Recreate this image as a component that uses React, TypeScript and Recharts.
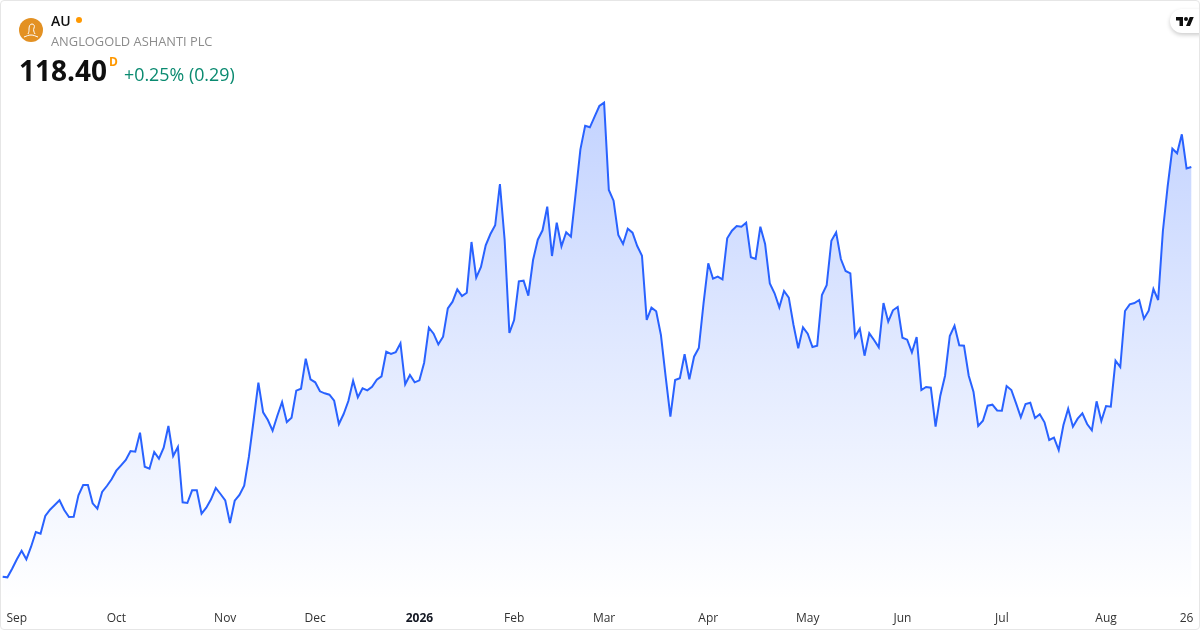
import { Area, AreaChart, XAxis, YAxis } from "recharts";

const closes = [
  36.46, 36.34, 38.06, 39.94, 41.66, 39.94, 42.46, 45.4, 45.06, 48.6,
  49.86, 50.8, 51.74, 49.8, 48.4, 48.46, 52.74, 54.8, 54.8, 51.14,
  50.06, 53.4, 54.6, 55.94, 57.66, 58.74, 59.8, 61.6, 61.46, 65.26,
  58.46, 58.06, 61.4, 60.06, 62.26, 66.6, 60.6, 62.4, 51.34, 51.2,
  53.74, 53.74, 49.06, 50.26, 51.94, 54.2, 53, 51.74, 47.2, 51.66,
  52.8, 54.66, 60.46, 67.8, 75.26, 69.34, 67.8, 65.66, 68.66, 71.4,
  67.4, 68.26, 73.66, 74.06, 80.06, 75.94, 75.34, 73.54, 73.14, 72.86,
  71.66, 67, 69, 71.6, 75.66, 72.34, 74.14, 73.74, 74.46, 75.86,
  76.54, 81.46, 81, 81.34, 83.14, 74.94, 76.8, 75.34, 75.74, 79.26,
  86.26, 85.06, 82.94, 84.46, 90.14, 91.46, 93.94, 92.6, 93.26, 103.4,
  96.26, 98.4, 102.74, 105, 106.74, 115, 103.8, 85.2, 87.8, 95.54,
  95.66, 92.66, 99.8, 103.86, 105.74, 110.46, 100.6, 107.26, 102.54, 105.34,
  104.46, 113.14, 121.94, 126.66, 126.34, 128.46, 130.6, 131.26, 113.8, 111.66,
  104.8, 103, 106.06, 105.26, 102.6, 100.66, 87.8, 90.26, 89.54, 84.8,
  76.46, 68.46, 75.8, 76.14, 80.94, 75.94, 80.46, 82.2, 91.14, 99.14,
  96.06, 96.46, 95.94, 104.14, 105.66, 106.6, 106.46, 107.26, 100.34, 100,
  106.46, 103, 95.1, 93.14, 90.34, 93.6, 92.26, 86.8, 82.14, 86.34,
  85.06, 82.4, 82.66, 92.8, 94.74, 103.66, 105.34, 100, 97.6, 97.14,
  84.46, 86.06, 80.66, 85.14, 83.8, 82.34, 91.2, 87.46, 89.74, 90.4,
  84.26, 83.86, 81.34, 84.4, 73.8, 74.4, 74.26, 66.46, 72.66, 76.66,
  84.6, 86.66, 82.74, 82.66, 76.66, 73.46, 66.6, 67.66, 70.66, 70.86,
  69.7, 69.66, 74.6, 73.8, 71.14, 68.34, 71, 71.26, 68.2, 68.94,
  67.34, 63.8, 64.26, 61.8, 66.8, 70.06, 66.46, 68.06, 69.14, 67,
  65.74, 71.54, 67.6, 70.6, 70.46, 79.66, 78.4, 89.6, 90.94, 91.2,
  91.8, 88.06, 89.66, 94, 91.8, 105.6, 114.46, 122.06, 121.14, 124.94,
  118.11, 118.4,
];

const tickLabels = ["Sep", "Oct", "Nov", "Dec", "2026", "Feb", "Mar", "Apr", "May", "Jun", "Jul", "Aug", "26"];
const tickSessions = [3, 24, 47, 66, 88, 108, 127, 149, 170, 190, 211, 233, 250];

const chartData = closes.map((close, session) => ({ session, close }));

const MonthTick = ({ x, y, payload }: any) => {
  const label = tickLabels[tickSessions.indexOf(payload.value)];
  return (
    <text
      x={x}
      y={y}
      textAnchor="middle"
      fontSize={12}
      fontFamily="'Open Sans', sans-serif"
      fontWeight={label === "2026" ? 700 : 400}
      fill={label === "2026" ? "#131722" : "#333333"}
    >
      {label}
    </text>
  );
};

const App = () => {
  return (
    <div
      style={{
        position: "fixed",
        left: 0,
        top: 0,
        width: 1200,
        height: 630,
        boxSizing: "border-box",
        border: "1px solid #e6e6e6",
        borderRadius: 4,
        background: "#fff",
        overflow: "hidden",
        fontFamily: "'Open Sans', sans-serif",
      }}
    >
      <div style={{ position: "absolute", left: -1, top: -1 }}>
        <AreaChart width={1200} height={630} data={chartData} margin={{ top: 0, right: 8.7, left: 2.67, bottom: 0 }}>
          <defs>
            <linearGradient id="closeGrad" x1="0" y1="0" x2="0" y2="1">
              <stop offset="0%" stopColor="#2962ff" stopOpacity={0.28} />
              <stop offset="100%" stopColor="#2962ff" stopOpacity={0} />
            </linearGradient>
          </defs>
          <XAxis
            dataKey="session"
            type="number"
            domain={[0, 251]}
            ticks={tickSessions}
            interval={0}
            axisLine={false}
            tickLine={false}
            height={30}
            tick={<MonthTick />}
            tickMargin={16}
          />
          <YAxis hide domain={[31.8, 151.8]} />
          <Area
            type="linear"
            dataKey="close"
            stroke="#2962ff"
            strokeWidth={2}
            fill="url(#closeGrad)"
            fillOpacity={1}
            isAnimationActive={false}
          />
        </AreaChart>
      </div>

      <div style={{ position: "absolute", left: 18, top: 17, width: 24, height: 24, borderRadius: "50%", background: "#e39123" }}>
        <svg width="24" height="24" viewBox="0 0 24 24">
          <path d="M9 16c1-2 1-3 1-5 0-3 1-5 3-5s3 2 2 4c-1 2 0 4 1 6" fill="none" stroke="#fff" strokeWidth="1" />
          <path d="M5 19c3-1 4-2 7-2s4 1 7 2" fill="none" stroke="#fff" strokeWidth="1" />
        </svg>
      </div>
      <div style={{ position: "absolute", left: 50, top: 10, fontSize: 14, fontWeight: 600, color: "#0f0f0f", lineHeight: "19px" }}>AU</div>
      <div style={{ position: "absolute", left: 75, top: 16, width: 6, height: 6, borderRadius: "50%", background: "#ff9800" }} />
      <div style={{ position: "absolute", left: 50, top: 31, fontSize: 12.85, color: "#8c8c8c", lineHeight: "18px" }}>ANGLOGOLD ASHANTI PLC</div>
      <div style={{ position: "absolute", left: 18, top: 50, fontSize: 28, fontWeight: 700, color: "#0f0f0f", lineHeight: "38px" }}>118.40</div>
      <div style={{ position: "absolute", left: 108, top: 53, fontSize: 12, fontWeight: 700, color: "#ff9800", lineHeight: "15px" }}>D</div>
      <div style={{ position: "absolute", left: 123, top: 61, fontSize: 17.85, color: "#0a8a70", lineHeight: "25px" }}>+0.25% (0.29)</div>

      <div
        style={{
          position: "absolute",
          right: -12,
          top: 8,
          width: 41,
          height: 24,
          borderRadius: 12,
          background: "#fff",
          boxShadow: "0 2px 4px rgba(0,0,0,0.2)",
        }}
      >
        <svg style={{ position: "absolute", left: 6, top: 7 }} width="18" height="10" viewBox="0 0 36 20">
          <path d="M14 20H7V9H0V2h14v18zM28 20h-8l7.5-18h8L28 20z" fill="#0f0f0f" />
          <circle cx="20" cy="6" r="4" fill="#0f0f0f" />
        </svg>
      </div>
    </div>
  );
};

export default App;
